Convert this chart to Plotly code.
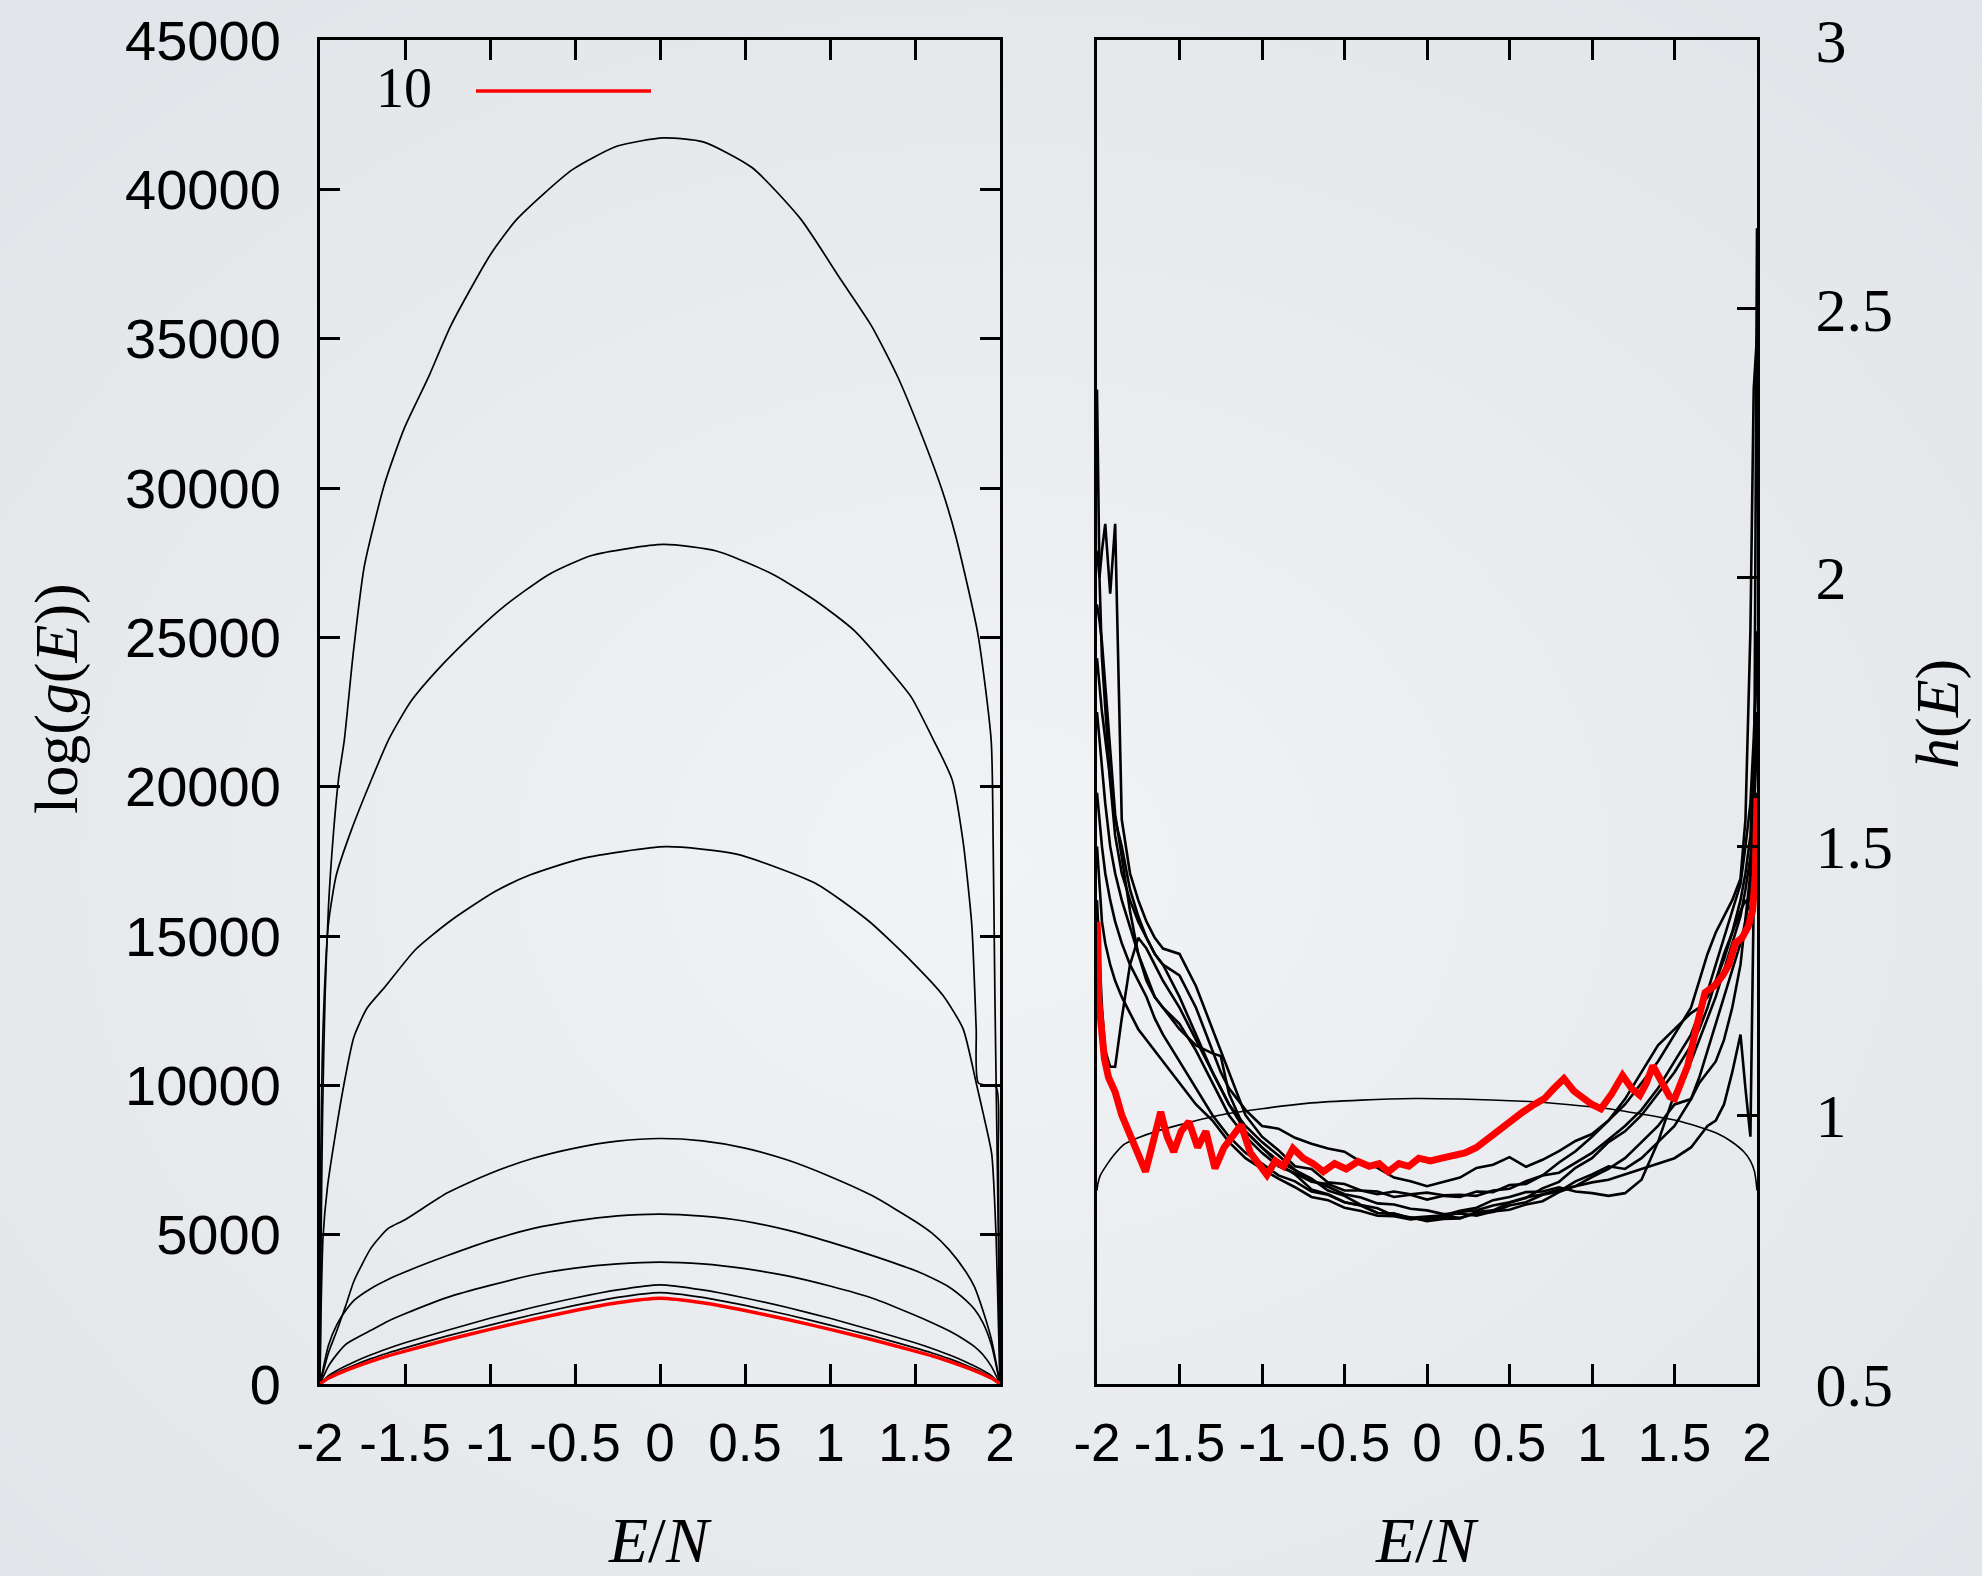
import base64
import plotly.graph_objects as go

# ---------------- left panel: log g(E) after successive iterations ----------------
e_iter1 = [-2, -1.995, -1.985, -1.97, -1.95, -1.92, -1.89, -1.857, -1.805, -1.74, -1.62, -1.505,
           -1.362, -1.231, -0.997, -0.84, -0.515, -0.25, 0.02, 0.254, 0.541, 0.827, 1.062, 1.244,
           1.4, 1.531, 1.661, 1.739, 1.87, 1.948, 1.96, 1.97, 1.98, 1.99, 2]
logg_iter1 = [0, 4000, 9000, 13000, 16000, 18500, 20300, 21560, 24440, 27360, 30140, 31990,
              33710, 35430, 37820, 39010, 40660, 41450, 41720, 41590, 40730, 39010, 36990, 35430,
              33700, 31900, 29900, 28400, 25110, 21560, 18000, 13000, 9000, 5000, 0]

e_iter2 = [-2, -1.995, -1.982, -1.951, -1.904, -1.814, -1.697, -1.594, -1.466, -1.309, -1.075,
           -0.919, -0.658, -0.397, 0.02, 0.332, 0.671, 0.932, 1.14, 1.349, 1.479, 1.609, 1.718,
           1.783, 1.834, 1.86, 1.873, 1.977, 1.99, 2]
logg_iter2 = [0, 7700, 11900, 15370, 17040, 18570, 20240, 21600, 22850, 23910, 25240, 26030,
              27090, 27750, 28110, 27890, 27090, 26160, 25240, 23910, 22990, 21560, 20240, 18150,
              15370, 11890, 10080, 9940, 7710, 0]

e_iter3 = [-2, -1.995, -1.982, -1.956, -1.904, -1.853, -1.801, -1.723, -1.62, -1.439, -1.232,
           -0.973, -0.766, -0.455, 0.036, 0.45, 0.916, 1.226, 1.485, 1.666, 1.783, 1.86, 1.899,
           1.951, 1.977, 1.99, 2]
logg_iter3 = [0, 2150, 4930, 6600, 8550, 10220, 11610, 12590, 13280, 14540, 15510, 16480,
              17040, 17600, 17990, 17740, 16760, 15510, 14120, 13000, 11890, 10080, 9110, 7710,
              4930, 2150, 0]

# later iterations share one energy grid
e_grid = [-2, -1.95, -1.9, -1.85, -1.8, -1.7, -1.6, -1.5, -1.25, -1.0, -0.75, -0.5, -0.25, 0,
          0.25, 0.5, 0.75, 1.0, 1.25, 1.5, 1.6, 1.7, 1.8, 1.85, 1.9, 1.95, 2]
logg_iter4 = [0, 1050, 1800, 2600, 3450, 4550, 5200, 5500, 6400, 7050, 7550, 7900, 8130, 8220,
              8140, 7900, 7500, 6950, 6300, 5450, 5050, 4500, 3750, 3250, 2450, 1480, 0]
logg_iter5 = [0, 1300, 2000, 2450, 2800, 3200, 3500, 3750, 4300, 4800, 5200, 5460, 5630, 5690,
              5620, 5450, 5150, 4750, 4300, 3800, 3550, 3250, 2800, 2500, 2050, 1300, 0]
logg_iter6 = [0, 600, 1000, 1320, 1500, 1800, 2100, 2350, 2900, 3300, 3650, 3880, 4020, 4080,
              4020, 3860, 3620, 3280, 2870, 2300, 2050, 1780, 1450, 1250, 980, 580, 0]
logg_iter7 = [0, 280, 450, 600, 740, 980, 1190, 1380, 1800, 2200, 2560, 2880, 3150, 3320,
              3150, 2880, 2560, 2200, 1800, 1380, 1190, 980, 740, 600, 450, 280, 0]
logg_iter8 = [0, 230, 380, 510, 630, 850, 1040, 1210, 1610, 1970, 2320, 2630, 2900, 3060,
              2900, 2630, 2320, 1970, 1610, 1210, 1040, 850, 630, 510, 380, 230, 0]
logg_iter10 = [0, 200, 330, 450, 560, 760, 940, 1100, 1480, 1830, 2160, 2460, 2720, 2870,
               2720, 2460, 2160, 1830, 1480, 1100, 940, 760, 560, 450, 330, 200, 0]

# ---------------- right panel: histograms h(E) ----------------
h_grid = [-2, -1.985, -1.97, -1.95, -1.92, -1.89, -1.85, -1.8, -1.75, -1.7, -1.65, -1.6, -1.5,
          -1.4, -1.3, -1.25, -1.2, -1.1, -1.0, -0.9, -0.8, -0.7, -0.6, -0.5, -0.4, -0.3, -0.2,
          -0.1, 0, 0.1, 0.2, 0.3, 0.4, 0.5, 0.6, 0.7, 0.8, 0.9, 1.0, 1.1, 1.2, 1.3, 1.4, 1.5,
          1.6, 1.65, 1.7, 1.75, 1.8, 1.85, 1.9, 1.93, 1.96, 1.98, 2]
h_run1 = [2.35, 2.0, 1.85, 1.75, 1.62, 1.52, 1.45, 1.4, 1.36, 1.33, 1.3, 1.28, 1.22,
          1.15, 1.08, 1.05, 1.02, 0.97, 0.94, 0.91, 0.89, 0.862, 0.853, 0.838, 0.832, 0.818, 0.817,
          0.808, 0.806, 0.812, 0.809, 0.817, 0.82, 0.832, 0.838, 0.852, 0.858, 0.877, 0.89, 0.905,
          0.9, 0.92, 0.95, 0.98, 1.03, 1.07, 1.12, 1.17, 1.22, 1.27, 1.32, 1.36, 1.42, 1.48, 1.56]
h_run2 = [2.05, 2.0, 2.05, 2.1, 1.97, 2.1, 1.55, 1.45, 1.4, 1.36, 1.33, 1.31, 1.3,
          1.24, 1.16, 1.12, 1.08, 1.0, 0.96, 0.935, 0.905, 0.9, 0.875, 0.872, 0.86, 0.858, 0.848,
          0.852, 0.843, 0.85, 0.848, 0.858, 0.857, 0.87, 0.872, 0.888, 0.893, 0.912, 0.93, 0.955,
          0.98, 1.01, 1.05, 1.1, 1.15, 1.19, 1.23, 1.28, 1.33, 1.38, 1.43, 1.5, 1.58, 1.7, 1.85]
h_run3 = [1.95, 1.92, 1.88, 1.8, 1.68, 1.56, 1.48, 1.38, 1.3, 1.25, 1.22, 1.2, 1.16,
          1.13, 1.115, 1.11, 1.04, 0.97, 0.94, 0.915, 0.898, 0.878, 0.867, 0.853, 0.847, 0.836,
          0.834, 0.826, 0.823, 0.816, 0.817, 0.813, 0.821, 0.824, 0.834, 0.84, 0.857, 0.868, 0.885,
          0.9, 0.92, 0.95, 0.98, 1.02, 1.03, 1.06, 1.08, 1.1, 1.14, 1.2, 1.28, 1.36, 1.45, 1.58, 1.75]
h_run4 = [1.85, 1.8, 1.75, 1.7, 1.62, 1.55, 1.5, 1.42, 1.37, 1.33, 1.3, 1.28, 1.26,
          1.2, 1.12, 1.08, 1.05, 1.01, 0.98, 0.975, 0.958, 0.947, 0.938, 0.932, 0.913, 0.902, 0.884,
          0.877, 0.868, 0.876, 0.884, 0.902, 0.908, 0.922, 0.904, 0.917, 0.933, 0.952, 0.965, 0.99,
          1.02, 1.06, 1.1, 1.15, 1.2, 1.25, 1.3, 1.34, 1.37, 1.4, 1.44, 1.55, 1.9, 2.35, 2.45]
h_run5 = [1.75, 1.7, 1.65, 1.58, 1.5, 1.45, 1.4, 1.35, 1.3, 1.26, 1.22, 1.2, 1.17,
          1.12, 1.06, 1.03, 1.0, 0.96, 0.93, 0.905, 0.892, 0.876, 0.872, 0.86, 0.86, 0.853, 0.858,
          0.853, 0.856, 0.851, 0.852, 0.85, 0.86, 0.863, 0.877, 0.888, 0.912, 0.933, 0.96, 0.99,
          1.03, 1.08, 1.13, 1.16, 1.19, 1.2, 1.22, 1.25, 1.29, 1.34, 1.4, 1.45, 1.52, 1.65, 1.9]
h_run6 = [1.6, 1.55, 1.5, 1.45, 1.4, 1.36, 1.32, 1.28, 1.25, 1.22, 1.18, 1.15, 1.1,
          1.05, 1.0, 0.98, 0.96, 0.93, 0.91, 0.888, 0.877, 0.858, 0.852, 0.838, 0.832, 0.818, 0.817,
          0.809, 0.812, 0.814, 0.822, 0.828, 0.842, 0.848, 0.857, 0.858, 0.866, 0.858, 0.855, 0.85,
          0.855, 0.88, 0.95, 1.04, 1.1, 1.14, 1.18, 1.22, 1.27, 1.32, 1.37, 1.42, 1.48, 1.55, 1.7]
h_run7 = [1.5, 1.42, 1.36, 1.32, 1.28, 1.25, 1.22, 1.19, 1.16, 1.14, 1.12, 1.1, 1.06,
          1.02, 0.99, 0.97, 0.95, 0.92, 0.9, 0.882, 0.866, 0.848, 0.842, 0.828, 0.822, 0.813, 0.812,
          0.806, 0.81, 0.81, 0.82, 0.823, 0.832, 0.838, 0.847, 0.853, 0.862, 0.868, 0.875, 0.88,
          0.89, 0.9, 0.91, 0.92, 0.94, 0.96, 0.98, 0.99, 1.02, 1.08, 1.15, 1.05, 0.96, 1.4, 2.65]
h_run8 = [1.4, 1.3, 1.2, 1.12, 1.09, 1.09, 1.18, 1.28, 1.33, 1.31, 1.28, 1.25, 1.2,
          1.14, 1.08, 1.05, 1.02, 0.98, 0.95, 0.925, 0.898, 0.882, 0.86, 0.85, 0.833, 0.827, 0.813,
          0.81, 0.803, 0.807, 0.808, 0.82, 0.823, 0.837, 0.846, 0.864, 0.876, 0.902, 0.92, 0.95,
          0.97, 1.0, 1.04, 1.08, 1.13, 1.16, 1.2, 1.25, 1.3, 1.34, 1.38, 1.4, 1.38, 1.45, 1.6]

# smooth reference histogram
e_flat = [-2, -1.995, -1.98, -1.94, -1.9, -1.84, -1.75, -1.65, -1.5, -1.26, -1.0, -0.73, -0.4,
          -0.08, 0.2, 0.58, 0.85, 1.1, 1.3, 1.5, 1.65, 1.76, 1.84, 1.92, 1.96, 1.985, 1.995, 2]
h_flat = [0.86, 0.872, 0.888, 0.908, 0.925, 0.945, 0.958, 0.969, 0.982, 1.0, 1.012, 1.022, 1.028,
          1.031, 1.03, 1.026, 1.02, 1.012, 1.002, 0.991, 0.978, 0.966, 0.952, 0.932, 0.915, 0.895,
          0.875, 0.86]

# histogram of iteration 10
e_run10 = [-2, -1.995, -1.99, -1.97, -1.955, -1.93, -1.89, -1.85, -1.81, -1.76, -1.706, -1.66,
           -1.614, -1.575, -1.535, -1.49, -1.443, -1.39, -1.34, -1.285, -1.23, -1.18, -1.127,
           -1.07, -1.02, -0.97, -0.92, -0.87, -0.812, -0.75, -0.69, -0.628, -0.56, -0.49, -0.418,
           -0.35, -0.29, -0.234, -0.17, -0.11, -0.05, 0.02, 0.09, 0.16, 0.23, 0.3, 0.371, 0.44,
           0.51, 0.581, 0.65, 0.712, 0.77, 0.83, 0.89, 0.949, 1.0, 1.054, 1.12, 1.185, 1.24, 1.29,
           1.33, 1.369, 1.43, 1.47, 1.501, 1.54, 1.58, 1.63, 1.685, 1.74, 1.79, 1.83, 1.869, 1.91,
           1.947, 1.974, 1.99, 2]
h_run10 = [1.36, 1.33, 1.215, 1.16, 1.105, 1.07, 1.043, 1.0, 0.969, 0.93, 0.895, 0.95, 1.006,
           0.96, 0.932, 0.97, 0.988, 0.94, 0.97, 0.901, 0.94, 0.96, 0.982, 0.93, 0.91, 0.889,
           0.915, 0.905, 0.938, 0.92, 0.91, 0.895, 0.91, 0.9, 0.914, 0.905, 0.91, 0.895, 0.91,
           0.905, 0.92, 0.915, 0.92, 0.926, 0.93, 0.94, 0.957, 0.975, 0.99, 1.006, 1.02, 1.031,
           1.05, 1.068, 1.045, 1.031, 1.02, 1.012, 1.04, 1.074, 1.05, 1.037, 1.06, 1.092, 1.06,
           1.035, 1.031, 1.06, 1.092, 1.16, 1.228, 1.24, 1.259, 1.28, 1.32, 1.33, 1.351, 1.382,
           1.45, 1.59]

# ticks
x_tickvals = [-2, -1.5, -1, -0.5, 0, 0.5, 1, 1.5, 2]
x_ticktext = ["-2", "-1.5", "-1", "-0.5", "0", "0.5", "1", "1.5", "2"]
g_tickvals = [0, 5000, 10000, 15000, 20000, 25000, 30000, 35000, 40000, 45000]
g_ticktext = ["0", "5000", "10000", "15000", "20000", "25000", "30000", "35000", "40000", "45000"]
h_tickvals = [0.5, 1, 1.5, 2, 2.5, 3]
h_ticktext = ["0.5", "1", "1.5", "2", "2.5", "3"]
legend_label = "10"

BLACK = "#000000"
RED = "#ff0000"
SANS = "Liberation Sans Narrow, Liberation Sans, Arial, sans-serif"
SERIF = "Liberation Serif, DejaVu Serif, serif"

fig = go.Figure()

left_black = [(e_iter1, logg_iter1), (e_iter2, logg_iter2), (e_iter3, logg_iter3),
              (e_grid, logg_iter4), (e_grid, logg_iter5), (e_grid, logg_iter6),
              (e_grid, logg_iter7), (e_grid, logg_iter8)]
for ex, gy in left_black:
    fig.add_trace(go.Scatter(x=ex, y=gy, mode="lines",
                             line=dict(color=BLACK, width=1.7, shape="spline", smoothing=0.6),
                             xaxis="x", yaxis="y", showlegend=False, hoverinfo="skip"))
fig.add_trace(go.Scatter(x=e_grid, y=logg_iter10, mode="lines",
                         line=dict(color=RED, width=3.5, shape="spline", smoothing=0.6),
                         xaxis="x", yaxis="y", showlegend=False, hoverinfo="skip"))

fig.add_trace(go.Scatter(x=e_flat, y=h_flat, mode="lines",
                         line=dict(color=BLACK, width=1.6, shape="spline", smoothing=0.5),
                         xaxis="x2", yaxis="y2", showlegend=False, hoverinfo="skip"))
for hy in [h_run1, h_run2, h_run3, h_run4, h_run5, h_run6, h_run7, h_run8]:
    fig.add_trace(go.Scatter(x=h_grid, y=hy, mode="lines", line=dict(color=BLACK, width=2.6),
                             xaxis="x2", yaxis="y2", showlegend=False, hoverinfo="skip"))
fig.add_trace(go.Scatter(x=e_run10, y=h_run10, mode="lines", line=dict(color=RED, width=7),
                         xaxis="x2", yaxis="y2", showlegend=False, hoverinfo="skip"))

W, H = 1982, 1576
y_dom = [(H - 1384) / H, (H - 40) / H]

axis_common = dict(showline=True, linecolor=BLACK, linewidth=3, ticks="inside", ticklen=20,
                   tickwidth=2.5, tickcolor=BLACK, showgrid=False, zeroline=False,
                   automargin=False, tickangle=0)

fig.update_layout(
    width=W, height=H, autosize=False,
    margin=dict(l=0, r=0, t=0, b=0, pad=0),
    paper_bgcolor="#e9ebef", plot_bgcolor="rgba(0,0,0,0)",
    xaxis=dict(domain=[320 / W, 1000 / W], range=[-2, 2], anchor="y", mirror="ticks",
               tickvals=x_tickvals, ticktext=x_ticktext, ticklabelstandoff=10,
               tickfont=dict(family=SANS, size=53, color=BLACK), **axis_common),
    yaxis=dict(domain=y_dom, range=[0, 45000], anchor="x", mirror="ticks",
               tickvals=g_tickvals, ticktext=g_ticktext, ticklabelstandoff=25,
               tickfont=dict(family=SANS, size=56, color=BLACK), **axis_common),
    xaxis2=dict(domain=[1097 / W, 1757 / W], range=[-2, 2], anchor="y2", mirror="ticks",
                tickvals=x_tickvals, ticktext=x_ticktext, ticklabelstandoff=10,
                tickfont=dict(family=SANS, size=53, color=BLACK), **axis_common),
    yaxis2=dict(domain=y_dom, range=[0.5, 3], anchor="x2", side="right", mirror=True,
                tickvals=h_tickvals, ticktext=h_ticktext, ticklabelstandoff=43,
                tickfont=dict(family=SERIF, size=62, color=BLACK), **axis_common),
)

# soft vignette behind everything
svg = ('<svg xmlns="http://www.w3.org/2000/svg" width="1982" height="1576">'
       '<defs><radialGradient id="g" cx="50%" cy="55%" r="72%">'
       '<stop offset="0%" stop-color="#f1f3f5"/><stop offset="100%" stop-color="#e1e4e8"/>'
       '</radialGradient></defs><rect width="100%" height="100%" fill="url(#g)"/></svg>')
fig.add_layout_image(dict(source="data:image/svg+xml;base64," + base64.b64encode(svg.encode()).decode(),
                          xref="paper", yref="paper", x=0, y=1, sizex=1, sizey=1,
                          sizing="stretch", layer="below", xanchor="left", yanchor="top"))

# axis titles
title_font = dict(family=SERIF, size=62, color=BLACK)
fig.add_annotation(text="log(<i>g</i>(<i>E</i>))", textangle=-90, xref="paper", yref="paper",
                   x=57 / W, y=1 - 699 / H, xanchor="center", yanchor="middle",
                   showarrow=False, font=title_font)
fig.add_annotation(text="<i>E</i>/<i>N</i>", xref="paper", yref="paper",
                   x=660 / W, y=1 - 1540 / H, xanchor="center", yanchor="middle",
                   showarrow=False, font=dict(family=SERIF, size=64, color=BLACK))
fig.add_annotation(text="<i>E</i>/<i>N</i>", xref="paper", yref="paper",
                   x=1427 / W, y=1 - 1540 / H, xanchor="center", yanchor="middle",
                   showarrow=False, font=dict(family=SERIF, size=64, color=BLACK))
fig.add_annotation(text="<i>h</i>(<i>E</i>)", textangle=-90, xref="paper", yref="paper",
                   x=1938 / W, y=1 - 714 / H, xanchor="center", yanchor="middle",
                   showarrow=False, font=title_font)

# key: label followed by a red sample line
fig.add_annotation(text=legend_label, xref="paper", yref="paper", x=404 / W, y=1 - 88 / H,
                   xanchor="center", yanchor="middle", showarrow=False,
                   font=dict(family=SERIF, size=56, color=BLACK))
fig.add_shape(type="line", xref="paper", yref="paper", x0=476 / W, x1=651 / W,
              y0=1 - 91 / H, y1=1 - 91 / H, line=dict(color=RED, width=3.5))

fig.write_html("out.html")
